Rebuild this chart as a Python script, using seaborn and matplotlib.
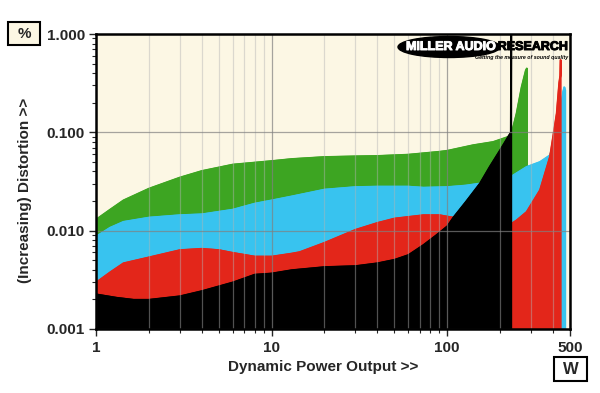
import matplotlib
matplotlib.use("Agg")
import matplotlib.pyplot as plt
import matplotlib.patheffects as pe
import seaborn as sns
from matplotlib.patches import Ellipse, Rectangle
from matplotlib.ticker import LogLocator, NullFormatter

# Dynamic power output (W) vs distortion (%) for four load impedances
green_w = [1, 1.2, 1.43, 2, 3, 4, 6, 10, 13, 20, 30, 40, 60, 90, 100, 140, 182, 221, 232, 247, 264, 279, 283]
green_pct = [0.0131, 0.0165, 0.0205, 0.027, 0.035, 0.0408, 0.0474, 0.0515, 0.054, 0.0566, 0.0575, 0.058,
             0.0598, 0.064, 0.0655, 0.0746, 0.0804, 0.0905, 0.1, 0.156, 0.29, 0.43, 0.45]

blue_w = [1, 1.2, 1.43, 2, 3, 4, 6, 8, 10, 13, 20, 30, 40, 60, 73, 100, 127, 153, 200, 232, 282, 336,
          383, 418, 440, 455, 462, 467]
blue_pct = [0.0088, 0.0108, 0.0124, 0.0137, 0.0145, 0.0148, 0.0165, 0.019, 0.0205, 0.0225, 0.0264, 0.028,
            0.0283, 0.0283, 0.0276, 0.028, 0.029, 0.0304, 0.033, 0.036, 0.0448, 0.0503, 0.0589, 0.1, 0.17,
            0.26, 0.29, 0.27]

red_w = [1, 1.2, 1.43, 2, 3, 4, 5, 6, 8, 10, 13, 14.4, 20, 30, 40, 50, 73, 90, 108, 150, 200, 232, 247,
         282, 336, 383, 418, 432, 438, 440]
red_pct = [0.0030, 0.0038, 0.0047, 0.0054, 0.0064, 0.0066, 0.0064, 0.0060, 0.0055, 0.0055, 0.0059, 0.0061,
           0.0076, 0.0103, 0.0121, 0.0134, 0.0145, 0.0145, 0.0137, 0.0128, 0.0122, 0.0119, 0.0128, 0.0156,
           0.026, 0.057, 0.156, 0.32, 0.38, 0.55]

black_w = [1, 1.3, 1.63, 2, 3, 4, 6, 8, 10, 13, 20, 30, 40, 50, 60, 73, 86, 100, 108, 127, 153, 174, 200,
           221, 229, 230]
black_pct = [0.00227, 0.0021, 0.0020, 0.0020, 0.00217, 0.00245, 0.0030, 0.0036, 0.0037, 0.0040, 0.0043,
             0.0044, 0.0047, 0.0051, 0.0057, 0.0072, 0.0090, 0.0112, 0.0137, 0.0197, 0.0304, 0.045, 0.067,
             0.09, 0.1, 1.0]

x_ticks = [1, 10, 100, 500]
x_labels = ["1", "10", "100", "500"]
y_ticks = [0.001, 0.01, 0.1, 1]
y_labels = ["0.001", "0.010", "0.100", "1.000"]

series = [
    (green_w, green_pct, "#3da522"),
    (blue_w, blue_pct, "#38c3ef"),
    (red_w, red_pct, "#e3261a"),
    (black_w, black_pct, "#000000"),
]

sns.set_style("white")
plt.rcParams["font.family"] = ["Liberation Sans", "DejaVu Sans"]
plt.rcParams["font.weight"] = "bold"

fig = plt.figure(figsize=(6, 3.93), dpi=100)
ax = fig.add_axes([96 / 600, 1 - 329 / 393, 474 / 600, 295 / 393])
ax.set_facecolor("#fcf7e4")

# each layer (fill + outline) sits above the previous one, all below the grid
for i, (xs, ys, col) in enumerate(series):
    z = 1.0 + i * 0.2
    ax.fill_between(xs, 0.001, ys, color=col, edgecolor=col, linewidth=1.3, zorder=z)
    sns.lineplot(x=xs, y=ys, ax=ax, color=col, lw=0.8, estimator=None, sort=False, zorder=z + 0.1)

ax.set_xscale("log")
ax.set_yscale("log")
ax.set_xlim(1, 500)
ax.set_ylim(0.001, 1)

ax.set_xticks(x_ticks)
ax.set_xticklabels(x_labels)
ax.xaxis.set_minor_locator(LogLocator(base=10, subs=range(2, 10)))
ax.xaxis.set_minor_formatter(NullFormatter())
ax.set_yticks(y_ticks)
ax.set_yticklabels(y_labels)
ax.yaxis.set_minor_locator(LogLocator(base=10, subs=range(2, 10)))
ax.yaxis.set_minor_formatter(NullFormatter())

ax.tick_params(axis="both", which="major", direction="out", length=5, width=1, labelsize=11, pad=3,
               left=True, bottom=True)
ax.tick_params(axis="both", which="minor", direction="out", length=3, width=0.8, left=True, bottom=True)
ax.tick_params(axis="x", which="major", pad=4)

# grid lines drawn over the fills
ax.set_axisbelow(False)
ax.grid(True, axis="x", which="minor", color="#b4b4b4", alpha=0.45, lw=0.9)
ax.grid(True, axis="both", which="major", color="#808080", alpha=0.7, lw=0.9)

for s in ax.spines.values():
    s.set_linewidth(1.8)
    s.set_color("black")
    s.set_zorder(10)
ax.set_xlabel("")
ax.set_ylabel("")

fig.text(25 / 600, 1 - 190 / 393, "(Increasing) Distortion >>", rotation=90, ha="center", va="center",
         fontsize=11, fontweight="bold")
fig.text(323 / 600, 1 - 367 / 393, "Dynamic Power Output >>", ha="center", va="center",
         fontsize=11, fontweight="bold")

# unit boxes
fig.patches.append(Rectangle((8 / 600, 1 - 45 / 393), 32 / 600, 23 / 393, transform=fig.transFigure,
                             facecolor="#fcf7e4", edgecolor="black", lw=1.5))
fig.text(24 / 600, 1 - 33.5 / 393, "%", ha="center", va="center", fontsize=11, fontweight="bold")
fig.patches.append(Rectangle((554 / 600, 1 - 381 / 393), 33 / 600, 24 / 393, transform=fig.transFigure,
                             facecolor="white", edgecolor="black", lw=1.5))
fig.text(570.5 / 600, 1 - 369 / 393, "W", ha="center", va="center", fontsize=12, fontweight="bold")

# logo
logo = Ellipse(((449 - 96) / 474, (329 - 47) / 295), 102 / 474, 21 / 295, transform=ax.transAxes,
               facecolor="black", edgecolor="black", zorder=11)
ax.add_patch(logo)
ax.text((451 - 96) / 474, (329 - 47) / 295, "MILLER AUDIO", transform=ax.transAxes, ha="center",
        va="center", color="white", fontsize=9, fontweight="heavy", zorder=12,
        path_effects=[pe.withStroke(linewidth=0.7, foreground="white")])
ax.text((568 - 96) / 474, (329 - 47) / 295, "RESEARCH", transform=ax.transAxes, ha="right",
        va="center", color="black", fontsize=9, fontweight="heavy", zorder=12,
        path_effects=[pe.withStroke(linewidth=0.7, foreground="black")])
ax.text((568 - 96) / 474, (329 - 57) / 295, "Getting the measure of sound quality", transform=ax.transAxes,
        ha="right", va="center", color="black", fontsize=3.8, fontweight="bold", style="italic", zorder=12)

fig.savefig("out.png", dpi=100, facecolor="white")
